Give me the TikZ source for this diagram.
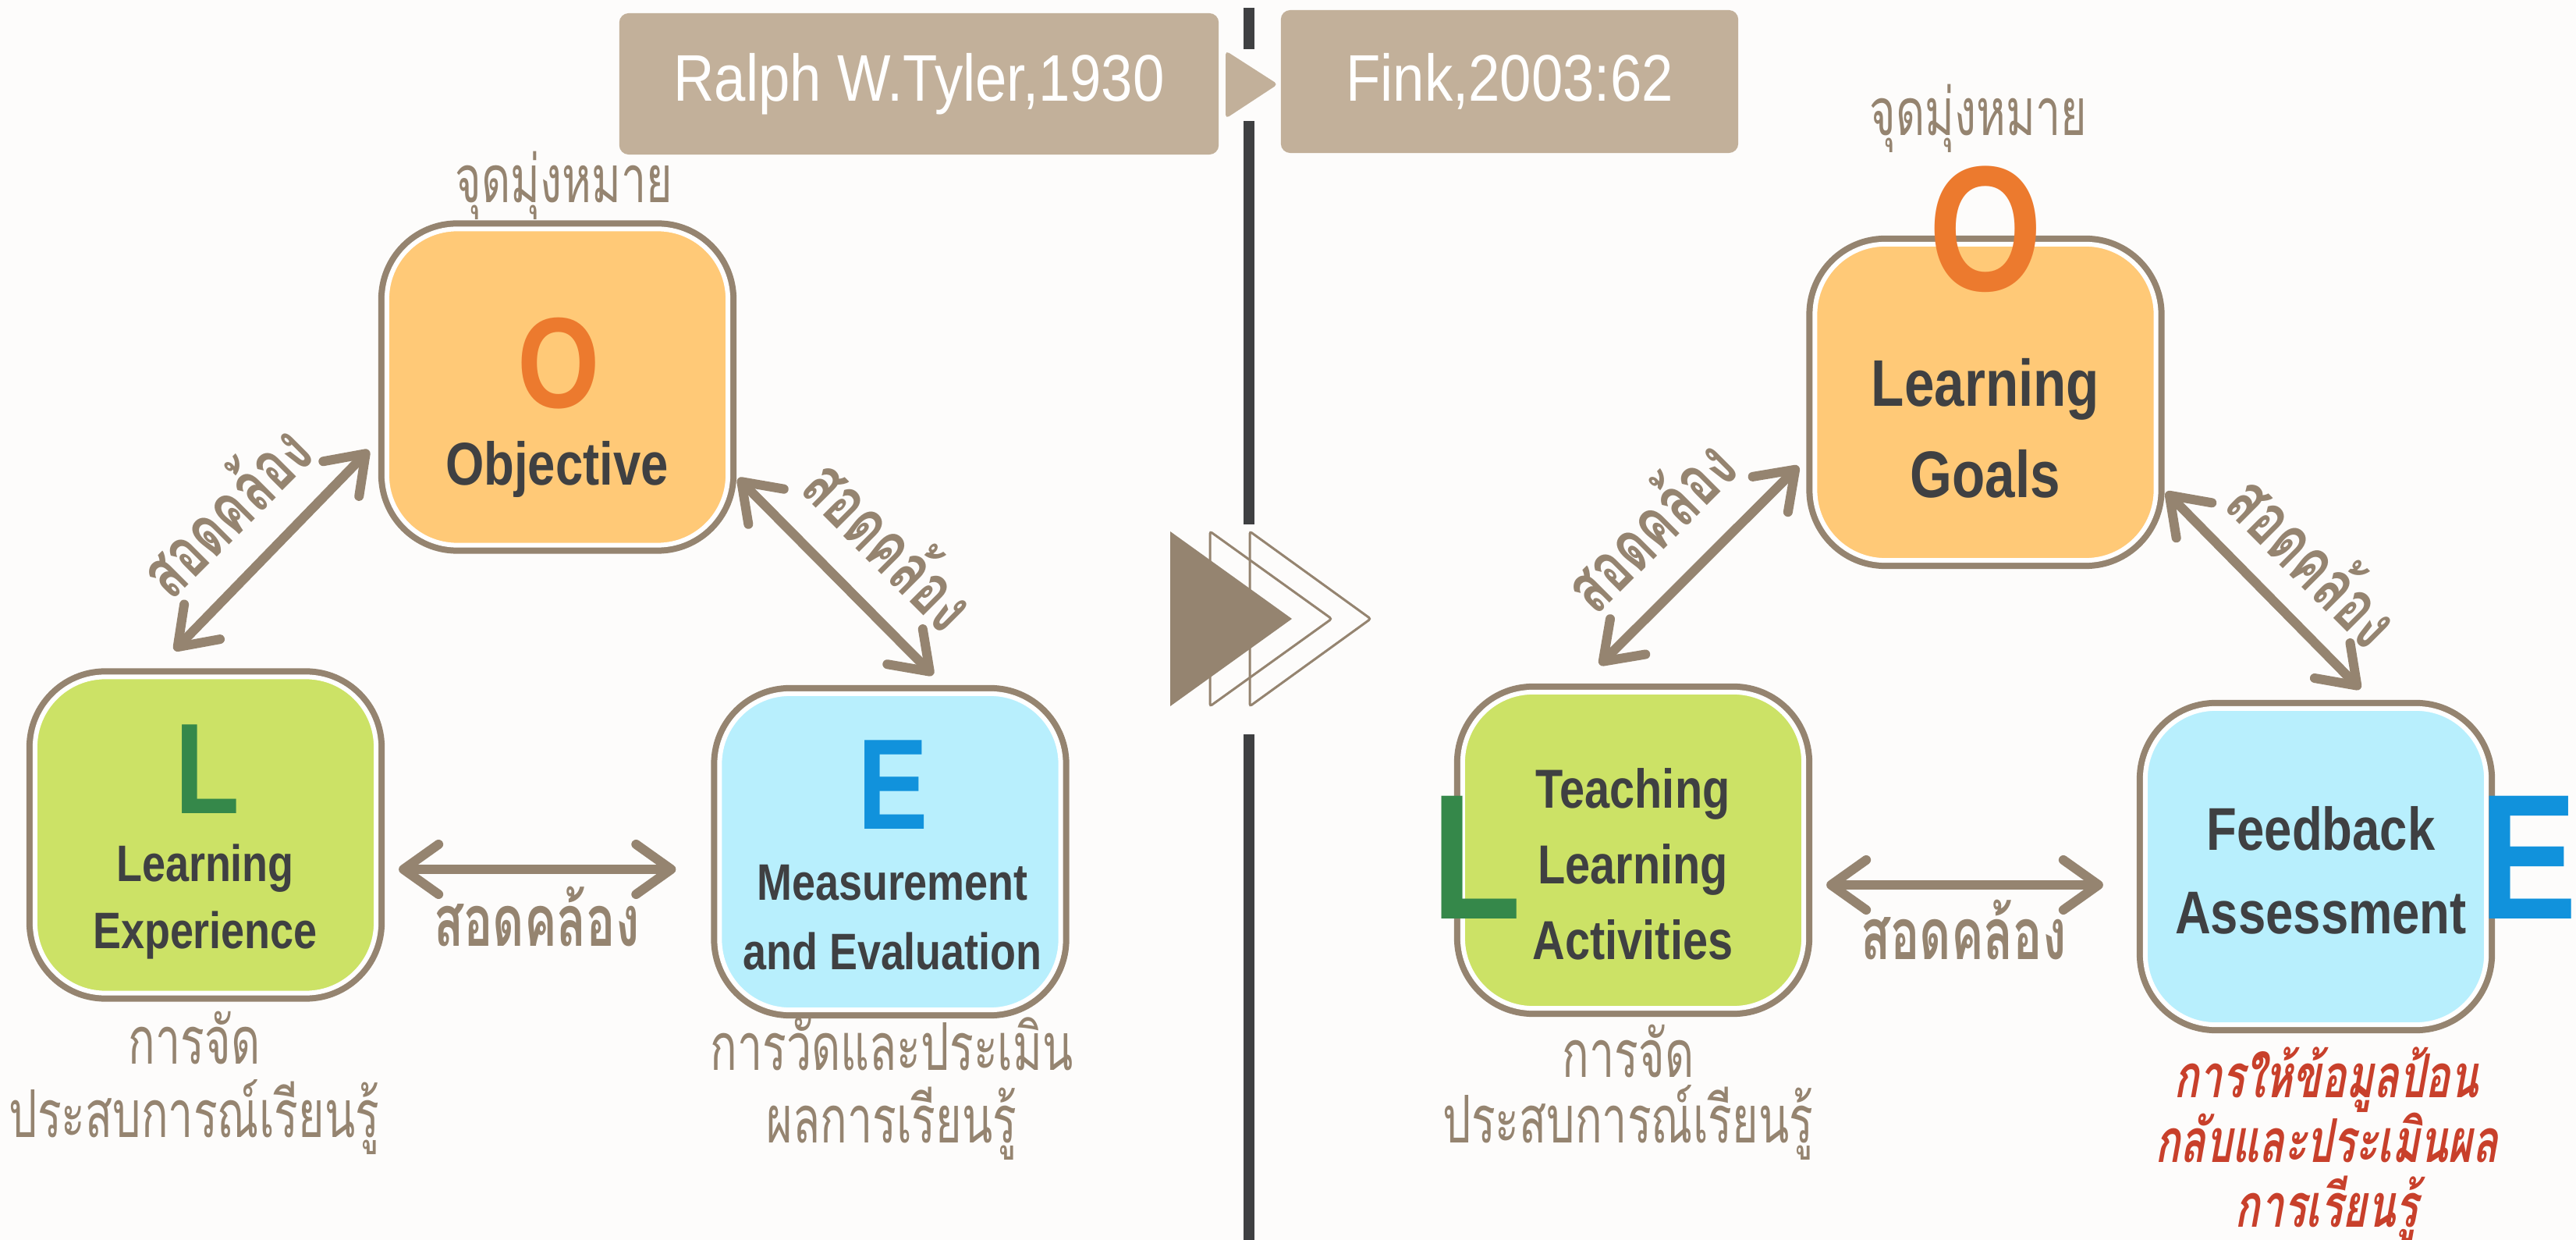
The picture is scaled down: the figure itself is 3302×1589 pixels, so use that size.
\documentclass[tikz,border=0pt]{standalone}
\usepackage{fontspec}
\setmainfont{Liberation Sans}
\newfontfamily\thaifont[Script=Thai,FakeStretch=0.68]{Loma}
\newfontfamily\thaiemph[Script=Thai,FakeStretch=0.69,FakeSlant=0.18]{Loma}
\newfontfamily\condfont[FakeStretch=0.82]{Liberation Sans}
\newfontfamily\reffont[FakeStretch=0.86]{Liberation Sans}
\usetikzlibrary{arrows.meta}

\definecolor{taupe}{HTML}{958470}
\definecolor{sand}{HTML}{C2B09A}
\definecolor{ink}{HTML}{3F4042}
\definecolor{paper}{HTML}{FDFCFB}
\definecolor{objfill}{HTML}{FFC977}
\definecolor{lexfill}{HTML}{CCE266}
\definecolor{evafill}{HTML}{B8EFFD}
\definecolor{oorange}{HTML}{EC7A2E}
\definecolor{lgreen}{HTML}{35884A}
\definecolor{eblue}{HTML}{1192DC}
\definecolor{fbred}{HTML}{C8402B}

\begin{document}
\begin{tikzpicture}[x=0.01cm,y=-0.01cm,
    card/.style={rectangle, rounded corners=0.9cm, minimum width=4.37cm, minimum height=4.05cm,
      outer sep=0pt, draw=white, line width=0.6mm, preaction={draw=taupe, line width=2.2mm}},
    refbox/.style={rectangle, rounded corners=0.12cm, fill=sand, text=white, inner sep=0pt,
      font=\reffont\fontsize{24}{24}\selectfont},
    letter/.style={anchor=base, inner sep=0pt, font=\condfont\bfseries\fontsize{47}{47}\selectfont},
    bigletter/.style={letter, font=\condfont\bfseries\fontsize{65}{65}\selectfont},
    word/.style={anchor=base, inner sep=0pt, align=center, text=ink},
    thai/.style={anchor=base, inner sep=0pt, align=center, text=taupe},
    match/.style={inner sep=0pt, text=taupe, font=\thaifont\bfseries\fontsize{26}{26}\selectfont},
    link/.style={taupe, line width=1.2mm,
      {Straight Barb[length=4.5mm,width=6.4mm,round]}-{Straight Barb[length=4.5mm,width=6.4mm,round]}},
    divider/.style={ink, line width=1.4mm}]

  \fill[paper] (0,0) rectangle (3302,1589);
  \useasboundingbox (0,0) rectangle (3302,1589);

  % divider between the two models
  \draw[divider] (1601,10) -- (1601,63);
  \draw[divider] (1601,155) -- (1601,672);
  \draw[divider] (1601,941) -- (1601,1589);
  \fill[sand, rounded corners=0.05cm] (1571,65) -- (1638,108) -- (1571,152) -- cycle;

  % sources
  \node[refbox, minimum width=7.68cm, minimum height=1.81cm] (tyler) at (1178,107.5) {Ralph W.Tyler,1930};
  \node[refbox, minimum width=5.86cm, minimum height=1.83cm] (fink) at (1935,104.5) {Fink,2003:62};

  % triple arrow
  \fill[taupe] (1500,681) -- (1656,793) -- (1500,905) -- cycle;
  \draw[taupe, line width=0.3mm, rounded corners=0.03cm] (1551,681) -- (1707,793) -- (1551,905) -- cycle;
  \draw[taupe, line width=0.3mm, rounded corners=0.03cm] (1602,681) -- (1757,793) -- (1602,905) -- cycle;

  % Tyler
  \node[card, fill=objfill] (obj) at (714.5,496) {};
  \node[card, fill=lexfill] (lexp) at (263.5,1070) {};
  \node[card, fill=evafill] (meas) at (1141,1091.5) {};

  \node[letter, text=oorange] (objletter) at (716,523) {O};
  \node[letter, text=lgreen] (lexletter) at (266,1043) {L};
  \node[letter, text=eblue] (measletter) at (1145,1063) {E};

  % multi-line nodes sit on the baseline of their last line
  \node[word, font=\condfont\bfseries\fontsize{22}{22}\selectfont] (objname) at (714,622) {Objective};
  \node[word, font=\condfont\bfseries\fontsize{18.7}{24.7}\selectfont] (lexname) at (263,1216) {Learning\\Experience};
  \node[word, font=\condfont\bfseries\fontsize{18.7}{25.3}\selectfont] (measname) at (1144,1242) {Measurement\\and Evaluation};

  \node[thai, font=\thaifont\fontsize{24}{24}\selectfont] (objthai) at (723,260) {จุดมุ่งหมาย};
  \node[thai, font=\thaifont\fontsize{24}{26.5}\selectfont] (lexthai) at (249,1457) {การจัด\\ประสบการณ์เรียนรู้};
  \node[thai, font=\thaifont\fontsize{24}{26.7}\selectfont] (measthai) at (1143,1465) {การวัดและประเมิน\\ผลการเรียนรู้};

  \draw[link] ([shift={(-23,81)}]obj.west) -- ([shift={(-40,-34)}]lexp.north);
  \draw[link] ([shift={(13,117)}]obj.east) -- ([shift={(55,-24)}]meas.north);
  \draw[link] ([shift={(29,44)}]lexp.east) -- ([shift={(-56,22.5)}]meas.west);
  \node[match, rotate=45] (objlexlabel) at (286,652) {สอดคล้อง};
  \node[match, rotate=-45] (objmeaslabel) at (1143,695) {สอดคล้อง};
  \node[match, anchor=base] (lexmeaslabel) at (688,1212) {สอดคล้อง};

  % Fink
  \node[card, fill=objfill] (goals) at (2545,515.5) {};
  \node[card, fill=lexfill] (tla) at (2093.5,1089.5) {};
  \node[card, fill=evafill] (fba) at (2968.5,1110.5) {};

  \node[bigletter, text=oorange] (goalsletter) at (2545,373) {O};
  \node[bigletter, text=lgreen] (tlaletter) at (1893,1178) {L};
  \node[bigletter, text=eblue] (fbaletter) at (3241,1178) {E};

  \node[word, font=\condfont\bfseries\fontsize{24}{33.3}\selectfont] (goalsname) at (2545,638) {Learning\\Goals};
  \node[word, font=\condfont\bfseries\fontsize{20}{27.5}\selectfont] (tlaname) at (2093,1229) {Teaching\\Learning\\Activities};
  \node[word, font=\condfont\bfseries\fontsize{22}{30.7}\selectfont] (fbaname) at (2975,1197) {Feedback\\Assessment};

  \node[thai, font=\thaifont\fontsize{24}{24}\selectfont] (goalsthai) at (2536,174) {จุดมุ่งหมาย};
  \node[thai, font=\thaifont\fontsize{24}{24}\selectfont] (tlathai) at (2087,1465) {การจัด\\ประสบการณ์เรียนรู้};
  \node[thai, text=fbred, font=\thaiemph\bfseries\fontsize{22}{23.6}\selectfont] (fbathai) at (2982,1572)
    {การให้ข้อมูลป้อน\\กลับและประเมินผล\\การเรียนรู้};

  \draw[link] ([shift={(-21,82)}]goals.west) -- ([shift={(-43,-35)}]tla.north);
  \draw[link] ([shift={(13,115)}]goals.east) -- ([shift={(57,-25)}]fba.north);
  \draw[link] ([shift={(29,44.5)}]tla.east) -- ([shift={(-54,23.5)}]fba.west);
  \node[match, rotate=45] (goalstlalabel) at (2112,671) {สอดคล้อง};
  \node[match, rotate=-45] (goalsfbalabel) at (2968,716) {สอดคล้อง};
  \node[match, anchor=base] (tlafbalabel) at (2517,1229) {สอดคล้อง};
\end{tikzpicture}
\end{document}
